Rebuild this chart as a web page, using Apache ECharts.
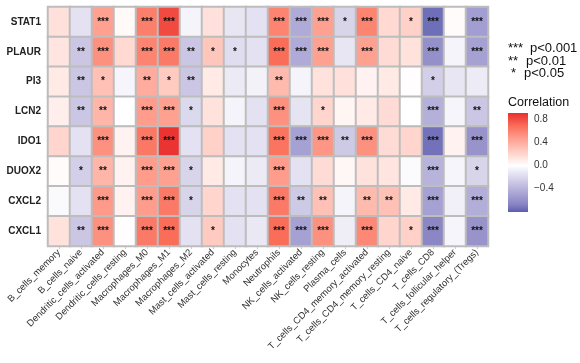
<!DOCTYPE html>
<html>
<head>
<meta charset="utf-8">
<script src="https://cdn.jsdelivr.net/npm/echarts@6/dist/echarts.min.js"></script>
<style>
  html, body { margin: 0; padding: 0; background: #fff; }
  #main { width: 580px; height: 363px; }
</style>
</head>
<body>
<div id="main"></div>
<script>
var genes = ['STAT1', 'PLAUR', 'PI3', 'LCN2', 'IDO1', 'DUOX2', 'CXCL2', 'CXCL1'];
var cells = ['B_cells_memory', 'B_cells_naive', 'Dendritic_cells_activated', 'Dendritic_cells_resting',
    'Macrophages_M0', 'Macrophages_M1', 'Macrophages_M2', 'Mast_cells_activated', 'Mast_cells_resting',
    'Monocytes', 'Neutrophils', 'NK_cells_activated', 'NK_cells_resting', 'Plasma_cells',
    'T_cells_CD4_memory_activated', 'T_cells_CD4_memory_resting', 'T_cells_CD4_naive', 'T_cells_CD8',
    'T_cells_follicular_helper', 'T_cells_regulatory_(Tregs)'];

// correlation, one row per gene (same order as genes)
var corrValues = [
    [0.15, -0.15, 0.45, 0.03, 0.60, 0.80, -0.06, 0.15, -0.13, -0.15, 0.58, -0.45, 0.45, -0.22, 0.58, 0.18, 0.22, -0.80, 0.02, -0.52],
    [0.13, -0.30, 0.52, 0.18, 0.58, 0.62, -0.30, 0.27, -0.18, -0.15, 0.68, -0.45, 0.45, -0.13, 0.45, 0.17, 0.14, -0.60, -0.06, -0.50],
    [0.10, -0.30, 0.30, -0.05, 0.40, 0.25, -0.30, 0.10, -0.11, -0.07, 0.33, -0.06, 0.14, 0.15, 0.06, 0.10, 0.01, -0.25, -0.13, -0.10],
    [0.08, -0.30, 0.35, 0.00, 0.47, 0.45, -0.20, 0.14, -0.06, -0.15, 0.52, -0.14, 0.20, 0.05, 0.10, 0.17, 0.00, -0.42, -0.05, -0.30],
    [0.20, -0.15, 0.52, 0.06, 0.63, 0.88, -0.15, 0.22, -0.15, -0.15, 0.65, -0.50, 0.50, -0.28, 0.52, 0.17, 0.20, -0.78, 0.06, -0.58],
    [0.02, -0.25, 0.35, 0.06, 0.47, 0.45, -0.22, 0.10, -0.06, -0.11, 0.47, -0.15, 0.17, 0.04, 0.14, 0.13, -0.02, -0.40, -0.05, -0.22],
    [-0.03, -0.15, 0.48, 0.06, 0.47, 0.62, -0.22, 0.20, -0.15, -0.15, 0.62, -0.28, 0.30, -0.06, 0.33, 0.30, 0.10, -0.50, -0.08, -0.43],
    [0.14, -0.30, 0.52, 0.01, 0.62, 0.68, -0.15, 0.25, -0.15, -0.12, 0.68, -0.50, 0.52, -0.09, 0.56, 0.20, 0.22, -0.65, -0.05, -0.58]
];

// significance marks, same layout
var sigStars = [
    ['', '', '***', '', '***', '***', '', '', '', '', '***', '***', '***', '*', '***', '', '*', '***', '', '***'],
    ['', '**', '***', '', '***', '***', '**', '*', '*', '', '***', '***', '***', '', '***', '', '', '***', '', '***'],
    ['', '**', '*', '', '**', '*', '**', '', '', '', '**', '', '', '', '', '', '', '*', '', ''],
    ['', '**', '**', '', '***', '***', '*', '', '', '', '***', '', '*', '', '', '', '', '***', '', '**'],
    ['', '', '***', '', '***', '***', '', '', '', '', '***', '***', '***', '**', '***', '', '', '***', '', '***'],
    ['', '*', '**', '', '***', '***', '*', '', '', '', '***', '', '', '', '', '', '', '***', '', '*'],
    ['', '', '***', '', '***', '***', '*', '', '', '', '***', '**', '**', '', '**', '**', '', '***', '', '***'],
    ['', '**', '***', '', '***', '***', '', '*', '', '', '***', '***', '***', '', '***', '', '*', '***', '', '***']
];

var sigLegend = [['***', 'p<0.001'], ['**', 'p<0.01'], ['*', 'p<0.05']];
var barTicks = [0.8, 0.4, 0.0, -0.4];
var barMin = -0.8, barMax = 0.9;

// blue - white - red ramp (steps approximate a Lab blend), spread evenly over -0.9..0.9
var colorLimit = 0.9;
var rampColors = ['#5C5DAF', '#8783c3', '#afaad7', '#d7d4eb', '#ffffff', '#ffd0c7', '#ffa191', '#fa6e5a', '#EA2E2D'];

var heatData = [];
for (var r = 0; r < genes.length; r++) {
    for (var c = 0; c < cells.length; c++) {
        heatData.push([c, r, corrValues[r][c], sigStars[r][c]]);
    }
}

// gradient for the colour bar (top = barMax, bottom = barMin)
var barStops = [];
rampColors.forEach(function (col, i) {
    var v = -colorLimit + i * 2 * colorLimit / (rampColors.length - 1);
    var off = (barMax - v) / (barMax - barMin);
    barStops.push({ offset: Math.max(0, Math.min(1, off)), color: col });
});
barStops.reverse();

var font = 'Liberation Sans, Arial, sans-serif';
var starX = [508, 508, 511], pX = [530, 526, 524];
var legendGraphics = [];
sigLegend.forEach(function (s, i) {
    legendGraphics.push({
        type: 'text', left: starX[i], top: 42 + i * 12.5,
        style: { text: s[0], font: '13px ' + font, fill: '#111' }
    });
    legendGraphics.push({
        type: 'text', left: pX[i], top: 42 + i * 12.5,
        style: { text: s[1], font: '13px ' + font, fill: '#111' }
    });
});
legendGraphics.push({
    type: 'text', left: 508, top: 96,
    style: { text: 'Correlation', font: '12.5px ' + font, fill: '#111' }
});

var chart = echarts.init(document.getElementById('main'));
var option = {
    backgroundColor: '#fff',
    textStyle: { fontFamily: font },
    animation: false,
    grid: [
        { left: 48, top: 7, width: 440, height: 239, show: true, borderColor: '#bdbdbd', borderWidth: 1 },
        { left: 508, top: 113, width: 20, height: 99 }
    ],
    xAxis: [
        {
            type: 'category', gridIndex: 0, data: cells,
            axisLine: { show: false },
            axisTick: { show: true, alignWithLabel: true, length: 3, lineStyle: { color: '#ccc' } },
            axisLabel: { interval: 0, rotate: 45, fontSize: 9.5, color: '#333', margin: 5 }
        },
        { type: 'category', gridIndex: 1, data: [''], show: false }
    ],
    yAxis: [
        {
            type: 'category', gridIndex: 0, data: genes, inverse: true,
            axisLine: { show: false },
            axisTick: { show: false },
            axisLabel: { fontSize: 10, fontWeight: 'bold', color: '#222', margin: 7 }
        },
        {
            type: 'value', gridIndex: 1, position: 'right', min: barMin, max: barMax, interval: 0.4,
            splitLine: { show: false },
            axisLine: { show: false },
            axisTick: { show: true, inside: true, length: 4, lineStyle: { color: '#fff' } },
            axisLabel: {
                fontSize: 10, color: '#333', margin: 6,
                formatter: function (v) {
                    if (barTicks.indexOf(Math.round(v * 10) / 10) < 0) return '';
                    return v.toFixed(1).replace('-', '\u2212');
                }
            }
        }
    ],
    visualMap: {
        show: false, type: 'continuous', seriesIndex: 0, dimension: 2,
        min: -colorLimit, max: colorLimit,
        inRange: { color: rampColors }
    },
    series: [
        {
            type: 'heatmap', xAxisIndex: 0, yAxisIndex: 0, data: heatData,
            itemStyle: { borderColor: '#bdbdbd', borderWidth: 2 },
            label: {
                show: true, fontSize: 10, fontWeight: 'bold', color: '#111',
                formatter: function (p) { return p.data[3]; }
            },
            emphasis: { disabled: true }
        },
        {
            type: 'custom', xAxisIndex: 1, yAxisIndex: 1, data: [[0, barMin, barMax]],
            renderItem: function (params, api) {
                var cs = params.coordSys;
                return {
                    type: 'rect',
                    shape: { x: cs.x, y: cs.y, width: cs.width, height: cs.height },
                    style: { fill: { type: 'linear', x: 0, y: 0, x2: 0, y2: 1, colorStops: barStops } }
                };
            },
            z: 1
        }
    ],
    graphic: legendGraphics
};
chart.setOption(option);
</script>
</body>
</html>
